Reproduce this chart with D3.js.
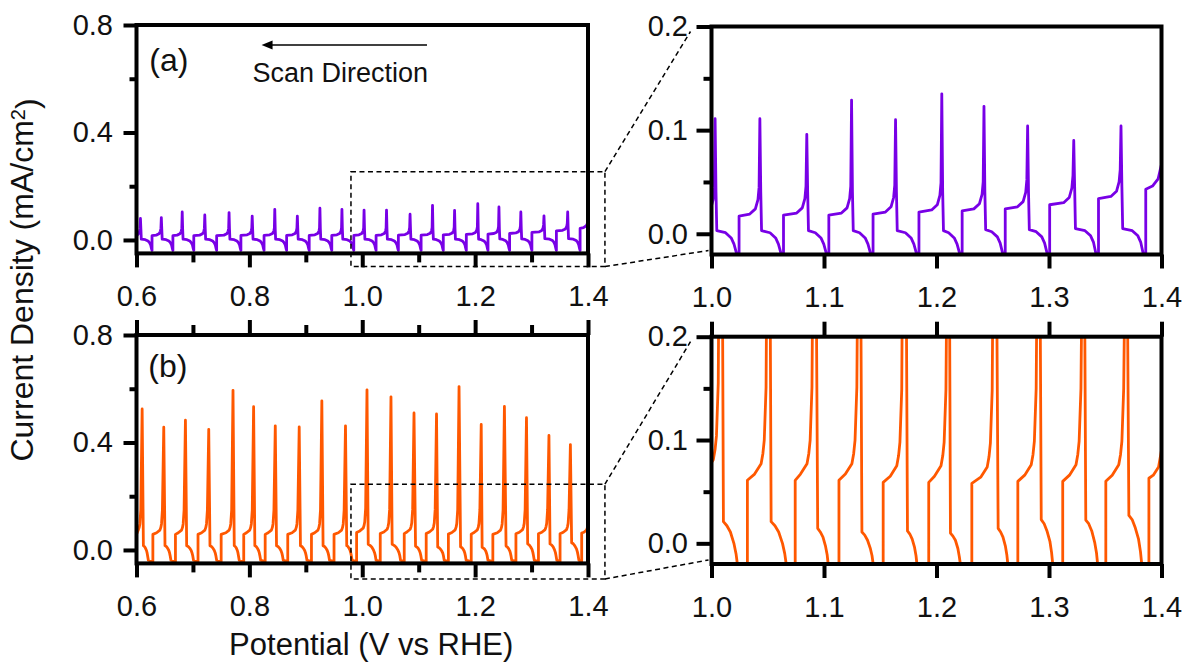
<!DOCTYPE html>
<html>
<head>
<meta charset="utf-8">
<script src="https://cdn.jsdelivr.net/npm/d3@7"></script>
<style>
  html, body { margin: 0; padding: 0; background: #fff; }
  svg { display: block; }
</style>
</head>
<body>
<svg id="chart" width="1189" height="666"></svg>
<script>
// Potential (V vs RHE) and current density (mA/cm2) pairs, one line per oscillation cycle.
const traceA = [
  [0.6000,0.015],[0.6030,0.022],[0.6053,0.031],[0.6063,0.043],
  [0.6070,0.080],[0.6078,0.040],[0.6085,0.003],[0.6155,0.001],[0.6205,-0.004],[0.6230,-0.010],[0.6250,-0.018],[0.6265,-0.032],[0.6275,-0.039],[0.6275,0.016],[0.6350,0.018],[0.6400,0.023],[0.6423,0.032],[0.6433,0.044],
  [0.6440,0.083],[0.6448,0.040],[0.6455,0.003],[0.6525,0.001],[0.6575,-0.004],[0.6600,-0.010],[0.6620,-0.018],[0.6635,-0.032],[0.6645,-0.039],[0.6645,0.016],[0.6720,0.018],[0.6770,0.023],[0.6793,0.032],[0.6803,0.044],
  [0.6810,0.104],[0.6818,0.040],[0.6825,0.003],[0.6895,0.001],[0.6945,-0.004],[0.6970,-0.010],[0.6990,-0.018],[0.7005,-0.032],[0.7015,-0.039],[0.7015,0.016],[0.7120,0.018],[0.7170,0.023],[0.7193,0.032],[0.7203,0.044],
  [0.7210,0.093],[0.7218,0.040],[0.7225,0.003],[0.7300,0.001],[0.7350,-0.004],[0.7375,-0.010],[0.7395,-0.018],[0.7410,-0.032],[0.7420,-0.039],[0.7420,0.016],[0.7550,0.018],[0.7600,0.023],[0.7623,0.032],[0.7633,0.044],
  [0.7640,0.102],[0.7648,0.040],[0.7655,0.003],[0.7730,0.001],[0.7780,-0.004],[0.7805,-0.010],[0.7825,-0.018],[0.7840,-0.032],[0.7850,-0.039],[0.7850,0.017],[0.7960,0.019],[0.8010,0.024],[0.8033,0.033],[0.8043,0.045],
  [0.8050,0.089],[0.8058,0.040],[0.8065,0.003],[0.8140,0.001],[0.8190,-0.004],[0.8215,-0.010],[0.8235,-0.018],[0.8250,-0.032],[0.8260,-0.039],[0.8260,0.017],[0.8360,0.019],[0.8410,0.024],[0.8433,0.033],[0.8443,0.045],
  [0.8450,0.114],[0.8458,0.040],[0.8465,0.003],[0.8540,0.001],[0.8590,-0.004],[0.8615,-0.010],[0.8635,-0.018],[0.8650,-0.032],[0.8660,-0.039],[0.8660,0.017],[0.8760,0.019],[0.8810,0.024],[0.8833,0.033],[0.8843,0.045],
  [0.8850,0.089],[0.8858,0.040],[0.8865,0.003],[0.8940,0.001],[0.8990,-0.004],[0.9015,-0.010],[0.9035,-0.018],[0.9050,-0.032],[0.9060,-0.039],[0.9060,0.017],[0.9160,0.019],[0.9210,0.024],[0.9233,0.033],[0.9243,0.045],
  [0.9250,0.118],[0.9258,0.040],[0.9265,0.003],[0.9340,0.001],[0.9390,-0.004],[0.9415,-0.010],[0.9435,-0.018],[0.9450,-0.032],[0.9460,-0.039],[0.9460,0.017],[0.9550,0.019],[0.9600,0.024],[0.9623,0.033],[0.9633,0.045],
  [0.9640,0.114],[0.9648,0.040],[0.9655,0.003],[0.9730,0.001],[0.9780,-0.004],[0.9805,-0.010],[0.9825,-0.018],[0.9840,-0.032],[0.9850,-0.039],[0.9850,0.017],[0.9942,0.019],[0.9992,0.024],[1.0015,0.033],[1.0025,0.045],
  [1.0032,0.111],[1.0040,0.040],[1.0047,0.003],[1.0125,0.001],[1.0175,-0.004],[1.0200,-0.010],[1.0220,-0.018],[1.0235,-0.032],[1.0245,-0.039],[1.0245,0.017],[1.0340,0.019],[1.0390,0.024],[1.0413,0.033],[1.0423,0.045],
  [1.0430,0.111],[1.0438,0.040],[1.0445,0.003],[1.0520,0.001],[1.0570,-0.004],[1.0595,-0.010],[1.0615,-0.018],[1.0630,-0.032],[1.0640,-0.039],[1.0640,0.018],[1.0757,0.020],[1.0807,0.025],[1.0830,0.034],[1.0840,0.046],
  [1.0847,0.096],[1.0855,0.040],[1.0862,0.003],[1.0923,0.001],[1.0973,-0.004],[1.0998,-0.010],[1.1018,-0.018],[1.1033,-0.032],[1.1043,-0.039],[1.1043,0.018],[1.1155,0.020],[1.1205,0.025],[1.1228,0.034],[1.1238,0.046],
  [1.1245,0.129],[1.1253,0.040],[1.1260,0.003],[1.1316,0.001],[1.1366,-0.004],[1.1391,-0.010],[1.1411,-0.018],[1.1426,-0.032],[1.1436,-0.039],[1.1436,0.019],[1.1546,0.021],[1.1596,0.026],[1.1619,0.035],[1.1629,0.047],
  [1.1636,0.110],[1.1644,0.040],[1.1651,0.003],[1.1724,0.001],[1.1774,-0.004],[1.1799,-0.010],[1.1819,-0.018],[1.1834,-0.032],[1.1844,-0.039],[1.1844,0.021],[1.1957,0.023],[1.2007,0.028],[1.2030,0.037],[1.2040,0.049],
  [1.2047,0.135],[1.2055,0.040],[1.2062,0.003],[1.2108,0.001],[1.2158,-0.004],[1.2183,-0.010],[1.2203,-0.018],[1.2218,-0.032],[1.2228,-0.039],[1.2228,0.022],[1.2332,0.024],[1.2382,0.029],[1.2405,0.038],[1.2415,0.050],
  [1.2422,0.123],[1.2430,0.040],[1.2437,0.004],[1.2491,0.002],[1.2541,-0.003],[1.2566,-0.009],[1.2586,-0.018],[1.2601,-0.032],[1.2611,-0.039],[1.2611,0.024],[1.2720,0.026],[1.2770,0.031],[1.2793,0.040],[1.2803,0.052],
  [1.2810,0.104],[1.2818,0.040],[1.2825,0.004],[1.2886,0.002],[1.2936,-0.003],[1.2961,-0.009],[1.2981,-0.018],[1.2996,-0.032],[1.3006,-0.039],[1.3006,0.028],[1.3130,0.030],[1.3180,0.035],[1.3203,0.044],[1.3213,0.056],
  [1.3220,0.090],[1.3228,0.045],[1.3235,0.005],[1.3320,0.003],[1.3370,-0.002],[1.3395,-0.008],[1.3415,-0.018],[1.3430,-0.032],[1.3440,-0.039],[1.3440,0.034],[1.3550,0.036],[1.3600,0.041],[1.3623,0.050],[1.3633,0.062],
  [1.3640,0.104],[1.3648,0.045],[1.3655,0.005],[1.3740,0.003],[1.3790,-0.002],[1.3815,-0.008],[1.3835,-0.018],[1.3850,-0.032],[1.3860,-0.039],[1.3860,0.043],[1.3920,0.046],[1.3970,0.053],[1.4000,0.067]
];

const traceB = [
  [0.6000,0.058],[0.6032,0.074],[0.6048,0.084],[0.6060,0.097],[0.6076,0.148],
  [0.6100,0.525],[0.6122,0.016],[0.6140,0.013],[0.6158,0.007],[0.6177,-0.002],[0.6188,-0.011],[0.6195,-0.020],[0.6210,-0.038],[0.6290,-0.044],[0.6290,0.058],[0.6357,0.064],[0.6415,0.074],[0.6431,0.084],[0.6443,0.097],[0.6459,0.148],
  [0.6483,0.457],[0.6505,0.016],[0.6528,0.013],[0.6550,0.007],[0.6573,-0.002],[0.6586,-0.011],[0.6595,-0.020],[0.6610,-0.038],[0.6690,-0.044],[0.6690,0.058],[0.6741,0.064],[0.6799,0.074],[0.6815,0.084],[0.6827,0.097],[0.6843,0.148],
  [0.6867,0.483],[0.6889,0.016],[0.6916,0.013],[0.6942,0.007],[0.6969,-0.002],[0.6984,-0.011],[0.6995,-0.020],[0.7010,-0.038],[0.7090,-0.044],[0.7090,0.058],[0.7154,0.064],[0.7212,0.074],[0.7228,0.084],[0.7240,0.097],[0.7256,0.148],
  [0.7280,0.449],[0.7302,0.016],[0.7328,0.013],[0.7354,0.007],[0.7379,-0.002],[0.7395,-0.011],[0.7405,-0.020],[0.7420,-0.038],[0.7500,-0.044],[0.7500,0.058],[0.7584,0.064],[0.7642,0.074],[0.7658,0.084],[0.7670,0.097],[0.7686,0.148],
  [0.7710,0.594],[0.7732,0.016],[0.7750,0.013],[0.7769,0.007],[0.7787,-0.002],[0.7798,-0.011],[0.7805,-0.020],[0.7820,-0.038],[0.7900,-0.044],[0.7900,0.058],[0.7949,0.064],[0.8007,0.074],[0.8023,0.084],[0.8035,0.097],[0.8051,0.148],
  [0.8075,0.533],[0.8097,0.016],[0.8119,0.013],[0.8141,0.007],[0.8163,-0.002],[0.8176,-0.011],[0.8185,-0.020],[0.8200,-0.038],[0.8280,-0.044],[0.8280,0.058],[0.8333,0.064],[0.8391,0.074],[0.8407,0.084],[0.8419,0.097],[0.8435,0.148],
  [0.8459,0.462],[0.8481,0.016],[0.8507,0.013],[0.8533,0.007],[0.8559,-0.002],[0.8575,-0.011],[0.8585,-0.020],[0.8600,-0.038],[0.8680,-0.044],[0.8680,0.058],[0.8757,0.064],[0.8815,0.074],[0.8831,0.084],[0.8843,0.097],[0.8859,0.148],
  [0.8883,0.458],[0.8905,0.016],[0.8930,0.013],[0.8955,0.007],[0.8980,-0.002],[0.8995,-0.011],[0.9005,-0.020],[0.9020,-0.038],[0.9100,-0.044],[0.9100,0.058],[0.9158,0.064],[0.9216,0.074],[0.9232,0.084],[0.9244,0.097],[0.9260,0.148],
  [0.9284,0.555],[0.9306,0.016],[0.9331,0.013],[0.9356,0.007],[0.9380,-0.002],[0.9395,-0.011],[0.9405,-0.020],[0.9420,-0.038],[0.9500,-0.044],[0.9500,0.058],[0.9577,0.064],[0.9635,0.074],[0.9651,0.084],[0.9663,0.097],[0.9679,0.148],
  [0.9703,0.462],[0.9725,0.016],[0.9745,0.013],[0.9765,0.007],[0.9785,-0.002],[0.9797,-0.011],[0.9805,-0.020],[0.9820,-0.038],[0.9900,-0.044],[0.9900,0.065],[0.9958,0.071],[1.0016,0.081],[1.0032,0.091],[1.0044,0.104],[1.0060,0.155],
  [1.0084,0.596],[1.0106,0.021],[1.0137,0.017],[1.0168,0.011],[1.0199,0.000],[1.0218,-0.010],[1.0230,-0.020],[1.0245,-0.038],[1.0319,-0.044],[1.0319,0.061],[1.0383,0.067],[1.0441,0.077],[1.0457,0.087],[1.0469,0.100],[1.0485,0.151],
  [1.0509,0.570],[1.0530,0.021],[1.0564,0.017],[1.0597,0.011],[1.0631,0.000],[1.0651,-0.010],[1.0664,-0.020],[1.0679,-0.038],[1.0744,-0.044],[1.0744,0.061],[1.0791,0.067],[1.0849,0.077],[1.0865,0.087],[1.0877,0.100],[1.0893,0.151],
  [1.0917,0.510],[1.0944,0.0145],[1.0967,0.011],[1.0991,0.006],[1.1014,-0.003],[1.1028,-0.011],[1.1037,-0.020],[1.1052,-0.038],[1.1133,-0.044],[1.1133,0.061],[1.1190,0.067],[1.1248,0.077],[1.1264,0.087],[1.1276,0.100],[1.1292,0.151],
  [1.1316,0.506],[1.1337,0.011],[1.1362,0.008],[1.1387,0.003],[1.1412,-0.005],[1.1427,-0.012],[1.1437,-0.020],[1.1452,-0.038],[1.1526,-0.044],[1.1526,0.059],[1.1589,0.065],[1.1647,0.075],[1.1663,0.085],[1.1675,0.098],[1.1691,0.149],
  [1.1715,0.608],[1.1742,0.012],[1.1763,0.009],[1.1784,0.004],[1.1805,-0.004],[1.1818,-0.012],[1.1826,-0.020],[1.1841,-0.038],[1.1931,-0.044],[1.1931,0.059],[1.1982,0.065],[1.2040,0.075],[1.2056,0.085],[1.2068,0.098],[1.2084,0.149],
  [1.2108,0.467],[1.2124,0.010],[1.2146,0.007],[1.2168,0.003],[1.2190,-0.005],[1.2203,-0.013],[1.2212,-0.020],[1.2227,-0.038],[1.2314,-0.044],[1.2314,0.058],[1.2393,0.064],[1.2451,0.074],[1.2467,0.084],[1.2479,0.097],[1.2495,0.148],
  [1.2519,0.534],[1.2548,0.0145],[1.2570,0.011],[1.2591,0.006],[1.2613,-0.003],[1.2625,-0.011],[1.2634,-0.020],[1.2649,-0.038],[1.2723,-0.044],[1.2723,0.060],[1.2784,0.066],[1.2842,0.076],[1.2858,0.086],[1.2870,0.099],[1.2886,0.150],
  [1.2910,0.492],[1.2931,0.023],[1.2957,0.019],[1.2982,0.012],[1.3008,0.002],[1.3023,-0.009],[1.3033,-0.020],[1.3048,-0.038],[1.3122,-0.044],[1.3122,0.060],[1.3182,0.066],[1.3240,0.076],[1.3256,0.086],[1.3268,0.099],[1.3284,0.150],
  [1.3308,0.426],[1.3327,0.0225],[1.3353,0.019],[1.3380,0.012],[1.3406,0.001],[1.3422,-0.009],[1.3432,-0.020],[1.3447,-0.038],[1.3505,-0.044],[1.3505,0.060],[1.3562,0.066],[1.3620,0.076],[1.3636,0.086],[1.3648,0.099],[1.3664,0.150],
  [1.3688,0.392],[1.3710,0.027],[1.3739,0.023],[1.3767,0.015],[1.3796,0.004],[1.3813,-0.008],[1.3824,-0.020],[1.3839,-0.038],[1.3888,-0.044],[1.3888,0.063],[1.3927,0.066],[1.3974,0.074],[1.4000,0.090]
];

// Tick values
const fullPotentialTicks = [0.6, 0.8, 1.0, 1.2, 1.4];
const fullPotentialMinor = [0.7, 0.9, 1.1, 1.3];
const zoomPotentialTicks = [1.0, 1.1, 1.2, 1.3, 1.4];
const fullCurrentTicks = [0.0, 0.4, 0.8];
const fullCurrentMinor = [0.2, 0.6];
const zoomCurrentTicks = [0.0, 0.1, 0.2];
const zoomCurrentMinor = [0.05, 0.15];

// Region of the full-range panels that is enlarged on the right (V, mA/cm2)
const zoomRegionA = { x0: 0.98, x1: 1.43, y0: -0.099, y1: 0.254 };
const zoomRegionB = { x0: 0.98, x1: 1.43, y0: -0.108, y1: 0.245 };

const FONT = '"Liberation Sans", Arial, Helvetica, sans-serif';
const PURPLE = "#7800e6";
const ORANGE = "#ff5800";

const svg = d3.select("#chart");

const panels = [
  { key: "a-full", trace: traceA, color: PURPLE, xDomain: [0.6, 1.4], yDomain: [-0.05, 0.8],
    box: { left: 136.5, right: 588, top: 25, bottom: 253.4 },
    xMajor: fullPotentialTicks, xMinor: fullPotentialMinor, yMajor: fullCurrentTicks, yMinor: fullCurrentMinor,
    yTick: 13, yMinorTick: 7, yPad: 10.5, topTicks: false },
  { key: "a-zoom", trace: traceA, color: PURPLE, xDomain: [1.0, 1.4], yDomain: [-0.02, 0.2],
    box: { left: 711.5, right: 1161.5, top: 26.5, bottom: 254.5 },
    xMajor: zoomPotentialTicks, xMinor: [], yMajor: zoomCurrentTicks, yMinor: zoomCurrentMinor,
    yTick: 15, yMinorTick: 8, yPad: 8.5, topTicks: false },
  { key: "b-full", trace: traceB, color: ORANGE, xDomain: [0.6, 1.4], yDomain: [-0.05, 0.8],
    box: { left: 136.5, right: 588, top: 335, bottom: 563.4 },
    xMajor: fullPotentialTicks, xMinor: fullPotentialMinor, yMajor: fullCurrentTicks, yMinor: fullCurrentMinor,
    yTick: 13, yMinorTick: 7, yPad: 10.5, topTicks: true },
  { key: "b-zoom", trace: traceB, color: ORANGE, xDomain: [1.0, 1.4], yDomain: [-0.02, 0.2],
    box: { left: 711.5, right: 1161.5, top: 336.7, bottom: 564 },
    xMajor: zoomPotentialTicks, xMinor: [], yMajor: zoomCurrentTicks, yMinor: zoomCurrentMinor,
    yTick: 15, yMinorTick: 8, yPad: 8.5, topTicks: true }
];

const scales = {};

function styleAxis(g, fontSize) {
  g.select(".domain").remove();
  g.attr("font-family", FONT).attr("font-size", fontSize).attr("color", "#000");
  g.selectAll(".tick line").attr("stroke-width", 4).attr("stroke", "#000");
  g.selectAll(".tick text").attr("fill", "#111");
}

panels.forEach(p => {
  const b = p.box;
  const x = d3.scaleLinear().domain(p.xDomain).range([b.left, b.right]);
  const y = d3.scaleLinear().domain(p.yDomain).range([b.bottom, b.top]);
  scales[p.key] = { x, y };

  const clipId = "clip-" + p.key;
  svg.append("clipPath").attr("id", clipId)
    .append("rect")
    .attr("x", b.left).attr("y", b.top)
    .attr("width", b.right - b.left).attr("height", b.bottom - b.top);

  const line = d3.line().x(d => x(d[0])).y(d => y(d[1]));
  svg.append("path")
    .datum(p.trace.filter(d => d[0] >= p.xDomain[0] - 0.01 && d[0] <= p.xDomain[1] + 0.01))
    .attr("clip-path", `url(#${clipId})`)
    .attr("d", line)
    .attr("fill", "none")
    .attr("stroke", p.color)
    .attr("stroke-width", 2.8)
    .attr("stroke-linejoin", "round")
    .attr("stroke-linecap", "round");

  // Frame
  svg.append("rect")
    .attr("x", b.left).attr("y", b.top)
    .attr("width", b.right - b.left).attr("height", b.bottom - b.top)
    .attr("fill", "none").attr("stroke", "#000").attr("stroke-width", 4);

  // Left axis
  svg.append("g").attr("transform", `translate(${b.left},0)`)
    .call(d3.axisLeft(y).tickValues(p.yMajor).tickSize(p.yTick).tickPadding(p.yPad).tickFormat(d3.format(".1f")))
    .call(g => styleAxis(g, 29));
  svg.append("g").attr("transform", `translate(${b.left},0)`)
    .call(d3.axisLeft(y).tickValues(p.yMinor).tickSize(p.yMinorTick).tickFormat(""))
    .call(g => styleAxis(g, 29));

  // Bottom axis
  svg.append("g").attr("transform", `translate(0,${b.bottom})`)
    .call(d3.axisBottom(x).tickValues(p.xMajor).tickSize(14).tickPadding(18).tickFormat(d3.format(".1f")))
    .call(g => styleAxis(g, 29));
  if (p.xMinor.length) {
    svg.append("g").attr("transform", `translate(0,${b.bottom})`)
      .call(d3.axisBottom(x).tickValues(p.xMinor).tickSize(9).tickFormat(""))
      .call(g => styleAxis(g, 29));
  }

  // Mirrored top ticks
  if (p.topTicks) {
    svg.append("g").attr("transform", `translate(0,${b.top})`)
      .call(d3.axisTop(x).tickValues(p.xMajor).tickSize(15).tickFormat(""))
      .call(g => styleAxis(g, 29));
    if (p.xMinor.length) {
      svg.append("g").attr("transform", `translate(0,${b.top})`)
        .call(d3.axisTop(x).tickValues(p.xMinor).tickSize(10).tickFormat(""))
        .call(g => styleAxis(g, 29));
    }
  }
});

// Dashed zoom boxes and connectors
function zoomGuide(fullKey, zoomKey, region) {
  const f = scales[fullKey], z = scales[zoomKey];
  const x0 = f.x(region.x0), x1 = f.x(region.x1);
  const yTop = f.y(region.y1), yBot = f.y(region.y0);
  const g = svg.append("g")
    .attr("fill", "none").attr("stroke", "#000")
    .attr("stroke-width", 1.5).attr("stroke-dasharray", "5,3.5");
  g.append("rect").attr("x", x0).attr("y", yTop).attr("width", x1 - x0).attr("height", yBot - yTop);
  const zl = z.x.range()[0], zt = z.y.range()[1], zb = z.y.range()[0];
  g.append("line").attr("x1", x1).attr("y1", yTop).attr("x2", zl - 21).attr("y2", zt + 5);
  g.append("line").attr("x1", x1).attr("y1", yBot).attr("x2", zl - 3).attr("y2", zb - 4);
}
zoomGuide("a-full", "a-zoom", zoomRegionA);
zoomGuide("b-full", "b-zoom", zoomRegionB);

// Panel letters
const sa = scales["a-full"], sb = scales["b-full"];
svg.append("text").attr("x", sa.x(0.6228)).attr("y", sa.y(0.630))
  .attr("font-family", FONT).attr("font-size", 32).attr("fill", "#111").text("(a)");
svg.append("text").attr("x", sb.x(0.621)).attr("y", sb.y(0.642))
  .attr("font-family", FONT).attr("font-size", 32).attr("fill", "#111").text("(b)");

// Scan direction arrow (scan runs from high to low potential)
const arrowY = sa.y(0.7256);
const arrowTail = sa.x(1.1147), arrowTip = sa.x(0.8216);
svg.append("line").attr("x1", arrowTail).attr("y1", arrowY).attr("x2", arrowTip + 8).attr("y2", arrowY)
  .attr("stroke", "#000").attr("stroke-width", 1.3);
svg.append("path")
  .attr("d", `M${arrowTip},${arrowY} L${arrowTip + 11},${arrowY - 4.5} L${arrowTip + 11},${arrowY + 4.5} Z`)
  .attr("fill", "#000");
svg.append("text").attr("x", sa.x(0.8054)).attr("y", sa.y(0.589))
  .attr("font-family", FONT).attr("font-size", 27).attr("fill", "#111").text("Scan Direction");

// Axis titles
const yTitle = svg.append("text")
  .attr("transform", "translate(33,280) rotate(-90)")
  .attr("text-anchor", "middle")
  .attr("font-family", FONT).attr("font-size", 32).attr("fill", "#111");
yTitle.append("tspan").text("Current Density (mA/cm");
yTitle.append("tspan").attr("dy", "-0.42em").attr("font-size", 20).text("2");
yTitle.append("tspan").attr("dy", "0.42em").text(")");

svg.append("text")
  .attr("x", (sa.x.range()[0] + sa.x.range()[1]) / 2 + 9)
  .attr("y", 655)
  .attr("text-anchor", "middle")
  .attr("font-family", FONT).attr("font-size", 31).attr("fill", "#111")
  .text("Potential (V vs RHE)");
</script>
</body>
</html>
